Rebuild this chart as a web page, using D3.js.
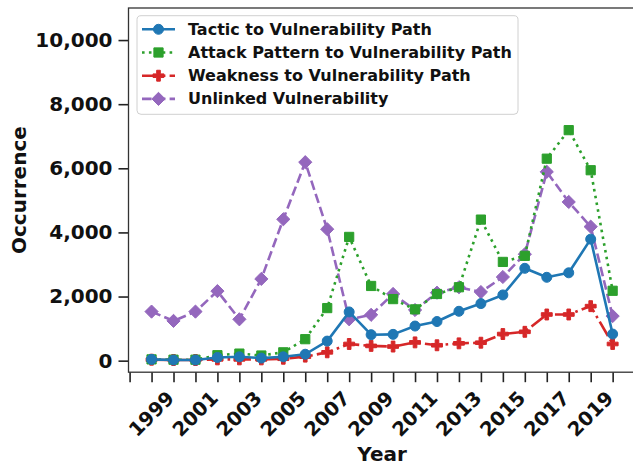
<!DOCTYPE html>
<html>
<head>
<meta charset="utf-8">
<script src="https://cdn.jsdelivr.net/npm/d3@7"></script>
<style>
  body { margin: 0; background: #fff; }
  svg { display: block; font-family: "DejaVu Sans", sans-serif; font-weight: bold; }
</style>
</head>
<body>
<div class="root"></div>
<script>
var years = d3.range(1999, 2021);
var tactic   = [40, 20, 20, 100, 120, 80, 120, 200, 610, 1520, 810, 820, 1080, 1220, 1540, 1780, 2050, 2880, 2600, 2740, 3790, 830];
var attack   = [40, 30, 30, 170, 220, 160, 260, 670, 1640, 3860, 2330, 1920, 1600, 2080, 2290, 4400, 3080, 3270, 6300, 7190, 5940, 2180];
var weakness = [30, 20, 20, 40, 40, 40, 60, 125, 260, 520, 460, 440, 570, 480, 540, 560, 830, 900, 1440, 1440, 1700, 520];
var unlinked = [1530, 1240, 1530, 2170, 1290, 2550, 4410, 6190, 4100, 1290, 1430, 2080, 1580, 2120, 2290, 2140, 2610, 3320, 5890, 4950, 4180, 1390];
var yTicks = [0, 2000, 4000, 6000, 8000, 10000];
var xLabelYears = d3.range(1999, 2021, 2);

var series = [
  {name: 'Tactic to Vulnerability Path', values: tactic, color: '#1f77b4', dash: null, marker: 'circle'},
  {name: 'Attack Pattern to Vulnerability Path', values: attack, color: '#2ca02c', dash: '2.6,4.3', marker: 'square'},
  {name: 'Weakness to Vulnerability Path', values: weakness, color: '#d62728', dash: '16.6,4.2,2.6,4.2', marker: 'plus'},
  {name: 'Unlinked Vulnerability', values: unlinked, color: '#9467bd', dash: '9.6,4.2', marker: 'diamond'}
];

function runChart() {
  var W = 633, H = 468;
  var left = 128.5, right = 635.7, top = 8, bottom = 372.2;

  var svg = d3.select('.root').append('svg')
    .attr('width', W)
    .attr('height', H);

  var x = d3.scaleLinear().domain([1997.95, 2021.05]).range([left, right]);
  var y = d3.scaleLinear().domain([-360, 11000]).range([bottom, top]);

  function markerPath(type) {
    if (type === 'circle') return d3.symbol(d3.symbolCircle, Math.PI * 25)();
    if (type === 'square') return d3.symbol(d3.symbolSquare, 85)();
    if (type === 'plus') return d3.symbol(d3.symbolCross, 66)();
    var h = 6.6;
    return 'M0,' + (-h) + 'L' + h + ',0L0,' + h + 'L' + (-h) + ',0Z';
  }

  // axes
  var xAxis = d3.axisBottom(x)
    .tickValues(d3.range(1998, 2022))
    .tickSize(10)
    .tickFormat('');
  var gx = svg.append('g')
    .attr('transform', 'translate(0,' + bottom + ')')
    .call(xAxis);
  gx.select('.domain').remove();
  gx.selectAll('line').attr('stroke', '#222').attr('stroke-width', 1.6);

  svg.append('g').selectAll('text')
    .data(xLabelYears)
    .enter().append('text')
      .attr('transform', function(d) { return 'translate(' + x(d) + ',414) rotate(-45)'; })
      .attr('text-anchor', 'middle')
      .attr('dominant-baseline', 'central')
      .style('font-size', '19.5px')
      .attr('fill', '#111')
      .text(function(d) { return d; });

  var yAxis = d3.axisLeft(y)
    .tickValues(yTicks)
    .tickSize(10)
    .tickPadding(6)
    .tickFormat(d3.format(','));
  var gy = svg.append('g')
    .attr('transform', 'translate(' + left + ',0)')
    .call(yAxis);
  gy.select('.domain').remove();
  gy.selectAll('line').attr('stroke', '#222').attr('stroke-width', 1.6);
  gy.selectAll('text')
    .style('font-size', '20px')
    .style('font-family', '"DejaVu Sans", sans-serif')
    .style('font-weight', 'bold')
    .attr('fill', '#111');

  // frame
  svg.append('rect')
    .attr('x', left).attr('y', top)
    .attr('width', right - left).attr('height', bottom - top)
    .attr('fill', 'none')
    .attr('stroke', '#333')
    .attr('stroke-width', 1.3);

  svg.append('text')
    .attr('x', (left + right) / 2)
    .attr('y', 461)
    .attr('text-anchor', 'middle')
    .style('font-size', '20px')
    .attr('fill', '#111')
    .text('Year');

  svg.append('text')
    .attr('transform', 'translate(26,' + ((top + bottom) / 2) + ') rotate(-90)')
    .attr('text-anchor', 'middle')
    .style('font-size', '20px')
    .attr('fill', '#111')
    .text('Occurrence');

  // series, last legend entry drawn first
  var plot = svg.append('g');
  series.slice().reverse().forEach(function(s) {
    var line = d3.line()
      .x(function(d, i) { return x(years[i]); })
      .y(function(d) { return y(d); });
    plot.append('path')
      .datum(s.values)
      .attr('d', line)
      .attr('fill', 'none')
      .attr('stroke', s.color)
      .attr('stroke-width', 2.6)
      .attr('stroke-dasharray', s.dash)
      .attr('stroke-linejoin', 'round');
    plot.append('g').selectAll('path')
      .data(s.values)
      .enter().append('path')
        .attr('d', markerPath(s.marker))
        .attr('transform', function(d, i) { return 'translate(' + x(years[i]) + ',' + y(d) + ')'; })
        .attr('fill', s.color)
        .attr('stroke', s.color)
        .attr('stroke-width', 1);
  });

  // legend
  var lg = svg.append('g');
  lg.append('rect')
    .attr('x', 137).attr('y', 15.7)
    .attr('width', 381).attr('height', 98.6)
    .attr('rx', 4)
    .attr('fill', '#fff')
    .attr('fill-opacity', 0.8)
    .attr('stroke', '#d0d0d0')
    .attr('stroke-width', 1);
  var rows = lg.selectAll('g.item')
    .data(series)
    .enter().append('g')
      .attr('class', 'item')
      .attr('transform', function(d, i) { return 'translate(0,' + (29.3 + i * 23.2) + ')'; });
  rows.append('line')
    .attr('x1', 142).attr('x2', 175)
    .attr('stroke', function(d) { return d.color; })
    .attr('stroke-width', 2.6)
    .attr('stroke-dasharray', function(d) { return d.dash; });
  rows.append('path')
    .attr('d', function(d) { return markerPath(d.marker); })
    .attr('transform', 'translate(158.5,0)')
    .attr('fill', function(d) { return d.color; })
    .attr('stroke', function(d) { return d.color; })
    .attr('stroke-width', 1);
  rows.append('text')
    .attr('x', 188)
    .attr('dominant-baseline', 'central')
    .style('font-size', '16px')
    .attr('fill', '#111')
    .text(function(d) { return d.name; });
}

window.onload = function() {
  runChart();
};
</script>
</body>
</html>
